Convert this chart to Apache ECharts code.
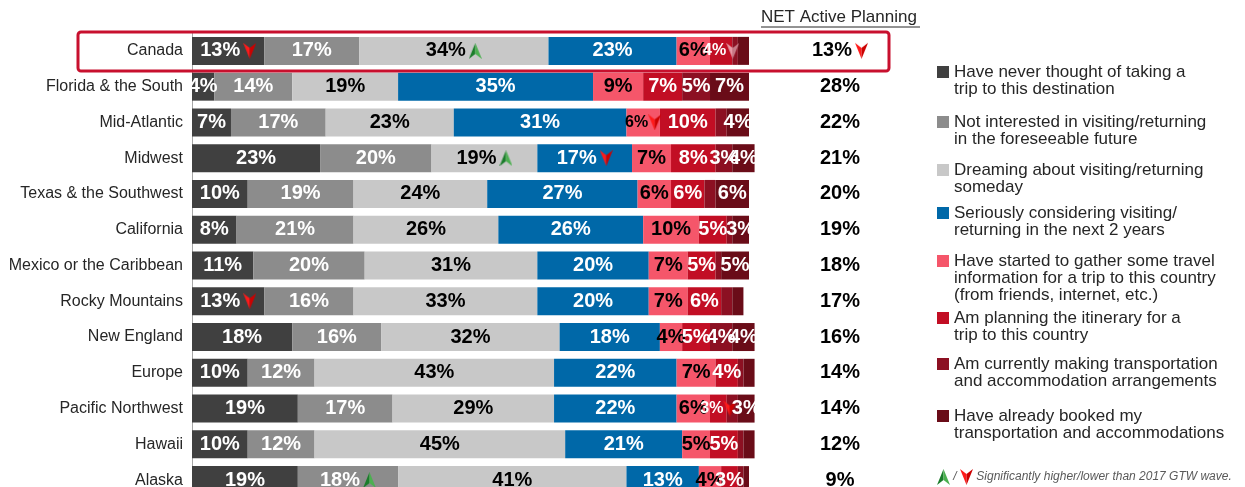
<!DOCTYPE html>
<html>
<head>
<meta charset="utf-8">
<script src="https://cdn.jsdelivr.net/npm/echarts@6/dist/echarts.min.js"></script>
<style>
  html, body { margin: 0; padding: 0; background: #fff; overflow: hidden; }
  #chart { width: 1245px; height: 510px; }
</style>
</head>
<body>
<div id="chart"></div>
<script>
  const categories = ['Canada', 'Florida & the South', 'Mid-Atlantic', 'Midwest', 'Texas & the Southwest',
    'California', 'Mexico or the Caribbean', 'Rocky Mountains', 'New England', 'Europe',
    'Pacific Northwest', 'Hawaii', 'Alaska']
  const seriesNames = [
    'Have never thought of taking a trip to this destination',
    'Not interested in visiting/returning in the foreseeable future',
    'Dreaming about visiting/returning someday',
    'Seriously considering visiting/ returning in the next 2 years',
    'Have started to gather some travel information for a trip to this country (from friends, internet, etc.)',
    'Am planning the itinerary for a trip to this country',
    'Am currently making transportation and accommodation arrangements',
    'Have already booked my transportation and accommodations'
  ]
  const legendText = [
    'Have never thought of taking a\ntrip to this destination',
    'Not interested in visiting/returning\nin the foreseeable future',
    'Dreaming about visiting/returning\nsomeday',
    'Seriously considering visiting/\nreturning in the next 2 years',
    'Have started to gather some travel\ninformation for a trip to this country\n(from friends, internet, etc.)',
    'Am planning the itinerary for a\ntrip to this country',
    'Am currently making transportation\nand accommodation arrangements',
    'Have already booked my\ntransportation and accommodations'
  ]
  const neverThought = [13, 4, 7, 23, 10, 8, 11, 13, 18, 10, 19, 10, 19]
  const notInterested = [17, 14, 17, 20, 19, 21, 20, 16, 16, 12, 17, 12, 18]
  const dreaming = [34, 19, 23, 19, 24, 26, 31, 33, 32, 43, 29, 45, 41]
  const considering = [23, 35, 31, 17, 27, 26, 20, 20, 18, 22, 22, 21, 13]
  const gathering = [6, 9, 6, 7, 6, 10, 7, 7, 4, 7, 6, 5, 4]
  const planning = [4, 7, 10, 8, 6, 5, 5, 6, 5, 4, 3, 5, 3]
  const arranging = [1, 5, 2, 3, 2, 1, 1, 2, 4, 1, 2, 1, 1]
  const booked = [2, 7, 4, 4, 6, 3, 5, 2, 4, 2, 3, 2, 1]
  const netPlanning = [13, 28, 22, 21, 20, 19, 18, 17, 16, 14, 14, 12, 9]
  // significance flags: [row, series, direction]
  const arrows = [[0, 0, 'dn'], [0, 2, 'up'], [0, 5, 'pale'], [2, 4, 'dn'], [3, 2, 'up'], [3, 3, 'dn'],
    [7, 0, 'dn'], [10, 5, 'dn'], [12, 1, 'up']]
  const netArrows = [[0, 'dn']]

  const values = [neverThought, notInterested, dreaming, considering, gathering, planning, arranging, booked]
  const colors = ['#404040', '#8c8c8c', '#c8c8c8', '#0068a8', '#f5566a', '#c20e24', '#8c1022', '#6a0c18']
  const labelColors = ['#fff', '#fff', '#000', '#fff', '#000', '#fff', '#fff', '#fff']
  const font = 'Liberation Sans, Arial, sans-serif'

  // little arrow icons drawn on canvases
  function arrowCanvas (dir, c1, c2) {
    let cv = document.createElement('canvas')
    cv.width = 13
    cv.height = 16
    let ctx = cv.getContext('2d')
    if (dir === 'dn') {
      ctx.translate(0, 16)
      ctx.scale(1, -1)
    }
    ctx.beginPath()
    ctx.moveTo(6.5, 0); ctx.lineTo(0, 16); ctx.lineTo(6.5, 11); ctx.closePath()
    ctx.fillStyle = c1
    ctx.fill()
    ctx.beginPath()
    ctx.moveTo(6.5, 0); ctx.lineTo(13, 16); ctx.lineTo(6.5, 11); ctx.closePath()
    ctx.fillStyle = c2
    ctx.fill()
    return cv
  }
  const icons = {
    up: arrowCanvas('up', '#1b7d2b', '#4cb050'),
    dn: arrowCanvas('dn', '#ff1a1a', '#cc0000'),
    pale: arrowCanvas('dn', '#e79aa6', '#c77b88')
  }
  const rich = {
    s: { width: 3 },
    up: { width: 13, height: 16, backgroundColor: { image: icons.up } },
    dn: { width: 13, height: 16, backgroundColor: { image: icons.dn } },
    pale: { width: 13, height: 16, backgroundColor: { image: icons.pale } },
    sm: { fontSize: 16, fontWeight: 'bold' }
  }

  function findArrow (row, si) {
    let a = arrows.find(d => d[0] === row && d[1] === si)
    return a ? a[2] : null
  }

  let series = seriesNames.map((name, si) => ({
    name: name,
    type: 'bar',
    stack: 'total',
    barWidth: 28,
    clip: false,
    itemStyle: { color: colors[si] },
    label: {
      show: true,
      position: 'inside',
      color: labelColors[si],
      fontFamily: font,
      fontSize: 20,
      fontWeight: 'bold',
      rich: rich,
      formatter: p => {
        if (p.value < 3) return ''
        let a = findArrow(p.dataIndex, si)
        if (!a) return p.value + '%'
        if (p.value < 8) return '{sm|' + p.value + '%}{' + a + '|}'
        return p.value + '%{s|}{' + a + '|}'
      }
    },
    emphasis: { disabled: true },
    data: values[si]
  }))

  // one legend per entry; the icon box is as tall as the text so the square sits on line one
  const legendFirstLine = [72, 122, 170, 213, 261, 318, 364, 416]
  let legends = seriesNames.map((name, i) => {
    let h = legendText[i].split('\n').length * 17
    return {
      data: [name],
      left: 937,
      top: legendFirstLine[i] - 8.5,
      padding: 0,
      orient: 'vertical',
      selectedMode: false,
      icon: `path://M0,0L0.01,0M0,2.5h12v12h-12zM0,${h}L0.01,${h}`,
      itemWidth: 12,
      itemHeight: h,
      formatter: () => legendText[i],
      textStyle: {
        fontFamily: font,
        fontSize: 17,
        lineHeight: 17,
        color: '#262626'
      }
    }
  })

  let chart = echarts.init(document.getElementById('chart'))
  chart.setOption({
    animation: false,
    backgroundColor: '#fff',
    grid: { left: 192, top: 33, width: 557, height: 465 },
    xAxis: { type: 'value', min: 0, max: 100, show: false },
    yAxis: [
      {
        type: 'category',
        data: categories,
        inverse: true,
        axisLine: { show: true, lineStyle: { color: '#a6a6a6', width: 1 } },
        axisTick: { show: false },
        axisLabel: { fontFamily: font, fontSize: 16, color: '#262626', margin: 9 }
      },
      {
        type: 'category',
        data: netPlanning.map(v => v + '%'),
        inverse: true,
        position: 'right',
        axisLine: { show: false },
        axisTick: { show: false },
        axisLabel: {
          fontFamily: font,
          fontSize: 20,
          fontWeight: 'bold',
          color: '#000',
          align: 'center',
          margin: 91,
          rich: rich,
          formatter: (v, i) => {
            let a = netArrows.find(d => d[0] === i)
            return a ? v + '{s|}{' + a[1] + '|}' : v
          }
        }
      }
    ],
    legend: legends,
    series: series,
    graphic: [
      {
        type: 'text',
        left: 761,
        top: 9,
        style: { text: 'NET Active Planning', font: '17px ' + font, fill: '#262626' }
      },
      {
        type: 'line',
        shape: { x1: 761, y1: 27, x2: 920, y2: 27 },
        style: { stroke: '#262626', lineWidth: 1 }
      },
      {
        type: 'rect',
        shape: { x: 78, y: 32, width: 811, height: 39, r: 3 },
        style: { fill: 'none', stroke: '#c8102e', lineWidth: 3 },
        z: 100
      },
      {
        type: 'text',
        left: 937,
        top: 469,
        style: {
          text: '{up|} / {dn|} Significantly higher/lower than 2017 GTW wave.',
          font: 'italic 12px ' + font,
          fill: '#595959',
          rich: {
            up: { width: 13, height: 16, backgroundColor: { image: icons.up } },
            dn: { width: 13, height: 16, backgroundColor: { image: icons.dn } }
          }
        }
      }
    ]
  })
</script>
</body>
</html>
